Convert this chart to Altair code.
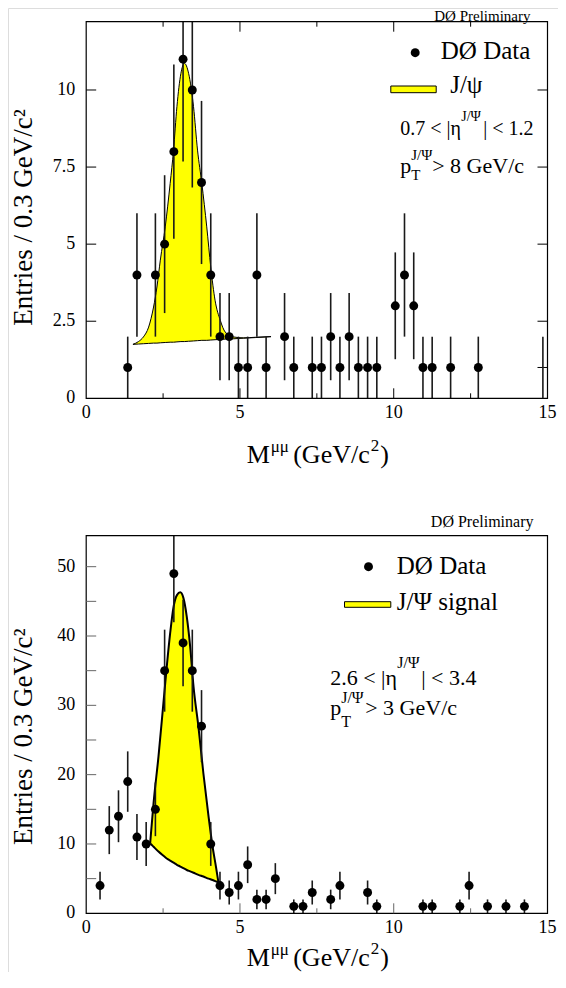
import altair as alt
import pandas as pd

FONT = "Liberation Serif, Times New Roman, serif"

# ---------------- top panel: 0.7<|eta|<1.2, pT>8 ----------------
top_mass = [1.35, 1.65, 2.25, 2.55, 2.85, 3.15, 3.45, 3.75, 4.05, 4.35, 4.65, 4.95,
            5.25, 5.55, 5.85, 6.45, 6.75, 7.35, 7.65, 7.95, 8.25, 8.55, 8.85, 9.15,
            9.45, 10.05, 10.35, 10.65, 10.95, 11.25, 11.85, 12.75]
top_counts = [1, 4, 4, 5, 8, 11, 10, 7, 4, 2, 2, 1,
              1, 4, 1, 2, 1, 1, 1, 2, 1, 2, 1, 1,
              1, 3, 4, 3, 1, 1, 1, 1]
top_edge_mass = [14.85]
top_edge_counts = [1]

top_fit_mass = [1.52, 1.70, 1.86, 2.03, 2.19, 2.30, 2.41, 2.57, 2.73, 2.84, 2.95, 3.08, 3.19,
                3.33, 3.49, 3.62, 3.76, 3.92, 4.05, 4.19, 4.36, 4.52, 4.79, 5.12, 5.50, 6.01]
top_fit_total = [1.75, 1.84, 1.99, 2.31, 2.96, 3.61, 4.48, 5.56, 6.97, 8.05, 9.46, 10.54, 10.87,
                 10.54, 9.46, 8.05, 6.97, 5.56, 4.26, 3.18, 2.53, 2.15, 1.99, 1.96, 1.98, 2.00]
top_fit_bkg = [1.75, 1.76, 1.77, 1.78, 1.79, 1.79, 1.80, 1.81, 1.82, 1.82, 1.83, 1.84, 1.84,
               1.85, 1.86, 1.87, 1.88, 1.88, 1.89, 1.90, 1.91, 1.92, 1.93, 1.95, 1.97, 2.00]

# ---------------- bottom panel: 2.6<|eta|<3.4, pT>3 ----------------
bot_mass = [0.45, 0.75, 1.05, 1.35, 1.65, 1.95, 2.25, 2.55, 2.85, 3.15, 3.45, 3.75,
            4.05, 4.35, 4.65, 4.95, 5.25, 5.55, 5.85, 6.15, 6.75, 7.05, 7.35, 7.95,
            8.25, 9.15, 9.45, 10.95, 11.25, 12.15, 12.45, 13.05, 13.65, 14.25]
bot_counts = [4, 12, 14, 19, 11, 10, 15, 35, 49, 39, 35, 27,
              10, 4, 3, 4, 7, 2, 2, 5, 1, 1, 3, 2,
              4, 3, 1, 1, 1, 1, 4, 1, 1, 1]

bot_fit_mass = [2.08, 2.10, 2.19, 2.35, 2.51, 2.62, 2.73, 2.84, 2.95, 3.06, 3.16, 3.27,
                3.38, 3.49, 3.65, 3.81, 3.98, 4.11, 4.22, 4.30]
bot_fit_total = [10.1, 11.2, 15.9, 22.6, 30.3, 35.6, 40.4, 44.2, 45.9, 46.3, 45.5, 42.8,
                 38.5, 32.7, 26.9, 20.2, 13.9, 9.6, 6.7, 4.45]
bot_fit_bkg = [10.1, 10.0, 9.6, 8.9, 8.3, 7.9, 7.6, 7.3, 7.0, 6.75, 6.5, 6.25,
               6.05, 5.85, 5.55, 5.3, 5.0, 4.8, 4.6, 4.45]

# axis labels / ticks
x_labels = [0, 5, 10, 15]
x_major = [5, 10]
x_minor = [2.5, 7.5, 12.5]
top_y_labels = [0, 2.5, 5, 7.5, 10]
top_y_ticks = [2.5, 5, 7.5, 10]
top_y_ticks_right = [1, 2.5, 5, 7.5, 10]
bot_y_labels = [0, 10, 20, 30, 40, 50]
bot_y_ticks = [5, 10, 15, 20, 25, 30, 35, 40, 45, 50]

# ---------------- geometry (whole figure is one view) ----------------
SX = -6.5          # horizontal shift of the whole figure (keeps the page from overflowing)
VW, VH = 550, 964
XL, XR = 84.7 + SX, 546.0 + SX
T_TOP, T_BOT, T_YMAX = 13.7, 390.3, 12.215
B_TOP, B_BOT, B_YMAX = 527.7, 905.3, 54.47

xs = alt.Scale(domain=[0, 15], range=[XL, XR], nice=False, zero=False)


def X(f):
    return alt.X(f, type="quantitative", scale=xs, axis=None)


def make_Y(ymax, top, bot):
    ys = alt.Scale(domain=[0, ymax], range=[bot, top], nice=False, zero=False)
    return lambda f: alt.Y(f, type="quantitative", scale=ys, axis=None)


def text(s, x, y, size, align="left", angle=0):
    return alt.Chart(pd.DataFrame({"t": [s]})).mark_text(
        align=align, baseline="alphabetic", font=FONT, fontSize=size, color="black", angle=angle
    ).encode(x=alt.value(x + SX), y=alt.value(y), text="t:N")


def dot(x, y):
    return alt.Chart(pd.DataFrame({"t": [0]})).mark_circle(size=80, color="black", opacity=1).encode(
        x=alt.value(x + SX), y=alt.value(y))


def box(x1, x2, y1, y2, fill="#ffff00", width=1.0, opacity=1):
    return alt.Chart(pd.DataFrame({"t": [0]})).mark_rect(
        fill=fill, fillOpacity=opacity, stroke="black", strokeWidth=width
    ).encode(x=alt.value(x1 + SX), x2=alt.value(x2 + SX), y=alt.value(y1), y2=alt.value(y2))


def panel(Y, ymax, top, bot, mass, counts, fit_m, fit_tot, fit_bkg, ylabels, yticks,
          right_ticks, top_ticks, tick_color, curve_w):
    pts = pd.DataFrame({"m": mass, "n": counts})
    fit = pd.DataFrame({"m": fit_m, "tot": fit_tot, "bkg": fit_bkg})
    L = []
    L.append(alt.Chart(fit).mark_area(color="#ffff00", opacity=1, interpolate="monotone").encode(
        x=X("m"), y=Y("tot"), y2=alt.Y2("bkg")))
    L.append(alt.Chart(fit).mark_line(color="black", strokeWidth=curve_w, interpolate="monotone").encode(
        x=X("m"), y=Y("tot")))
    L.append(alt.Chart(fit).mark_line(color="black", strokeWidth=curve_w, interpolate="monotone").encode(
        x=X("m"), y=Y("bkg")))
    L.append(alt.Chart(pts).transform_calculate(
        lo="datum.n - sqrt(datum.n)", hi=f"min(datum.n + sqrt(datum.n), {ymax})"
    ).mark_rule(color="#1a1a1a", strokeWidth=1.6).encode(x=X("m"), y=Y("lo"), y2=alt.Y2("hi")))
    L.append(alt.Chart(pts).mark_circle(size=80, color="black", opacity=1).encode(x=X("m"), y=Y("n")))

    # frame
    L.append(box(XL - SX, XR - SX, top, bot, fill="white", width=1.2, opacity=0))

    # inward ticks
    L.append(alt.Chart(pd.DataFrame({"v": yticks})).mark_rule(color=tick_color, strokeWidth=1).encode(
        y=Y("v"), x=alt.value(XL), x2=alt.value(XL + 10)))
    if right_ticks:
        L.append(alt.Chart(pd.DataFrame({"v": right_ticks})).mark_rule(color=tick_color, strokeWidth=1).encode(
            y=Y("v"), x=alt.value(XR - 10), x2=alt.value(XR)))
    xmaj = pd.DataFrame({"v": x_major})
    xmin = pd.DataFrame({"v": x_minor})
    L.append(alt.Chart(xmaj).mark_rule(color=tick_color, strokeWidth=1).encode(
        x=X("v"), y=alt.value(bot - 10), y2=alt.value(bot)))
    L.append(alt.Chart(xmin).mark_rule(color=tick_color, strokeWidth=1).encode(
        x=X("v"), y=alt.value(bot - 5), y2=alt.value(bot)))
    if top_ticks:
        L.append(alt.Chart(xmaj).mark_rule(color=tick_color, strokeWidth=1).encode(
            x=X("v"), y=alt.value(top), y2=alt.value(top + 10)))
        L.append(alt.Chart(xmin).mark_rule(color=tick_color, strokeWidth=1).encode(
            x=X("v"), y=alt.value(top), y2=alt.value(top + 5)))

    # tick labels
    L.append(alt.Chart(pd.DataFrame({"v": ylabels})).mark_text(
        align="right", baseline="middle", font=FONT, fontSize=18, color="black"
    ).encode(y=Y("v"), x=alt.value(XL - 11), text="v:N"))
    L.append(alt.Chart(pd.DataFrame({"v": x_labels})).mark_text(
        align="center", baseline="top", font=FONT, fontSize=18, color="black"
    ).encode(x=X("v"), y=alt.value(bot + 6), text="v:N"))
    return L


def x_title(base):
    return [
        text("M", 245.3, base, 26),
        text("μμ", 269.2, base - 11, 17),
        text("(GeV/c", 291.7, base, 26),
        text("2", 369.2, base - 12, 17),
        text(")", 378.7, base, 26),
    ]


Yt = make_Y(T_YMAX, T_TOP, T_BOT)
Yb = make_Y(B_YMAX, B_TOP, B_BOT)

layers = []

# ---------------- top panel ----------------
layers += panel(Yt, T_YMAX, T_TOP, T_BOT, top_mass, top_counts, top_fit_mass, top_fit_total, top_fit_bkg,
                top_y_labels, top_y_ticks, top_y_ticks_right, True, "black", 1.0)
edge = pd.DataFrame({"m": top_edge_mass, "n": top_edge_counts})
layers.append(alt.Chart(edge).transform_calculate(
    lo="datum.n - sqrt(datum.n)", hi=f"min(datum.n + sqrt(datum.n), {T_YMAX})"
).mark_rule(color="#1a1a1a", strokeWidth=1.6).encode(x=X("m"), y=Yt("lo"), y2=alt.Y2("hi")))

layers += [
    text("DØ Preliminary", 529, 13, 15, align="right"),
    dot(413.7, 44.7),
    text("DØ Data", 439.3, 51.3, 25),
    box(389.3, 434.7, 78, 84.7),
    text("J/ψ", 448.7, 85.3, 25),
    text("0.7 < |η", 398.7, 127, 20),
    text("J/Ψ", 459.7, 113.2, 14),
    text("| < 1.2", 481.7, 127, 20),
    text("p", 398.7, 165.2, 22),
    text("T", 409.7, 172.2, 15),
    text("J/Ψ", 409.7, 152.2, 15),
    text("> 8 GeV/c", 430.7, 165.2, 22),
    text("Entries / 0.3 GeV/c²", 30.8, 209.5, 27, align="center", angle=270),
] + x_title(455)

# ---------------- bottom panel ----------------
layers += panel(Yb, B_YMAX, B_TOP, B_BOT, bot_mass, bot_counts, bot_fit_mass, bot_fit_total, bot_fit_bkg,
                bot_y_labels, bot_y_ticks, None, False, "#666666", 2.0)
layers += [
    text("DØ Preliminary", 532, 518.7, 16, align="right"),
    dot(367, 558.7),
    text("DØ Data", 395.3, 566, 25),
    box(343, 389.3, 593.7, 599.3),
    text("J/Ψ signal", 395.3, 602, 25),
    text("2.6 < |η", 328.7, 677, 22),
    text("J/Ψ", 395.7, 659.7, 16),
    text("| < 3.4", 419.7, 677, 22),
    text("p", 328.7, 707, 22),
    text("T", 339.7, 718.7, 16),
    text("J/Ψ", 339.7, 694.5, 16),
    text("> 3 GeV/c", 363.7, 707, 22),
    text("Entries / 0.3 GeV/c²", 30.8, 728.7, 27, align="center", angle=270),
] + x_title(957.5)

chart = alt.layer(*layers).resolve_scale(y="independent").properties(
    width=VW, height=VH, padding=0, background="white"
).configure_view(stroke="transparent", strokeWidth=0).configure(font=FONT)

chart.save("out.html", embed_options={"renderer": "svg", "actions": False})
